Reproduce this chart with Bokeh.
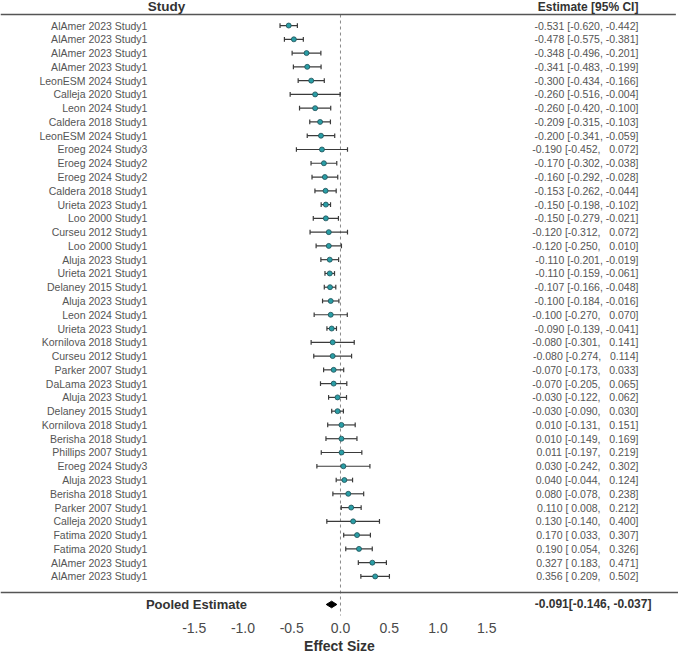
from bokeh.plotting import figure
from bokeh.models import ColumnDataSource, FixedTicker, Range1d, PrintfTickFormatter, Title
from bokeh.core.properties import value
from bokeh.embed import file_html
from bokeh.resources import INLINE

# Study-level effect sizes with 95% confidence intervals
studies = [
    "AlAmer 2023 Study1", "AlAmer 2023 Study1", "AlAmer 2023 Study1", "AlAmer 2023 Study1",
    "LeonESM 2024 Study1", "Calleja 2020 Study1", "Leon 2024 Study1", "Caldera 2018 Study1",
    "LeonESM 2024 Study1", "Eroeg 2024 Study3", "Eroeg 2024 Study2", "Eroeg 2024 Study2",
    "Caldera 2018 Study1", "Urieta 2023 Study1", "Loo 2000 Study1", "Curseu 2012 Study1",
    "Loo 2000 Study1", "Aluja 2023 Study1", "Urieta 2021 Study1", "Delaney 2015 Study1",
    "Aluja 2023 Study1", "Leon 2024 Study1", "Urieta 2023 Study1", "Kornilova 2018 Study1",
    "Curseu 2012 Study1", "Parker 2007 Study1", "DaLama 2023 Study1", "Aluja 2023 Study1",
    "Delaney 2015 Study1", "Kornilova 2018 Study1", "Berisha 2018 Study1", "Phillips 2007 Study1",
    "Eroeg 2024 Study3", "Aluja 2023 Study1", "Berisha 2018 Study1", "Parker 2007 Study1",
    "Calleja 2020 Study1", "Fatima 2020 Study1", "Fatima 2020 Study1", "AlAmer 2023 Study1",
    "AlAmer 2023 Study1",
]
estimates = [
    -0.531, -0.478, -0.348, -0.341, -0.300, -0.260, -0.260, -0.209, -0.200, -0.190,
    -0.170, -0.160, -0.153, -0.150, -0.150, -0.120, -0.120, -0.110, -0.110, -0.107,
    -0.100, -0.100, -0.090, -0.080, -0.080, -0.070, -0.070, -0.030, -0.030, 0.010,
    0.010, 0.011, 0.030, 0.040, 0.080, 0.110, 0.130, 0.170, 0.190, 0.327, 0.356,
]
ci_lower = [
    -0.620, -0.575, -0.496, -0.483, -0.434, -0.516, -0.420, -0.315, -0.341, -0.452,
    -0.302, -0.292, -0.262, -0.198, -0.279, -0.312, -0.250, -0.201, -0.159, -0.166,
    -0.184, -0.270, -0.139, -0.301, -0.274, -0.173, -0.205, -0.122, -0.090, -0.131,
    -0.149, -0.197, -0.242, -0.044, -0.078, 0.008, -0.140, 0.033, 0.054, 0.183, 0.209,
]
ci_upper = [
    -0.442, -0.381, -0.201, -0.199, -0.166, -0.004, -0.100, -0.103, -0.059, 0.072,
    -0.038, -0.028, -0.044, -0.102, -0.021, 0.072, 0.010, -0.019, -0.061, -0.048,
    -0.016, 0.070, -0.041, 0.141, 0.114, 0.033, 0.065, 0.062, 0.030, 0.151,
    0.169, 0.219, 0.302, 0.124, 0.238, 0.212, 0.400, 0.307, 0.326, 0.471, 0.502,
]

pooled_label = "Pooled Estimate"
pooled_est = -0.091
pooled_lower = -0.146
pooled_upper = -0.037

x_ticks = [-1.5, -1.0, -0.5, 0.0, 0.5, 1.0, 1.5]
x_title = "Effect Size"

n = len(studies)
rows = list(range(n))

GREY_TXT = "#555555"
DARK_TXT = "#333333"
FONT = value("Liberation Sans")
NBSP = "\u00a0"


def fmt(v):
    # pad non-negative values so the columns line up
    s = f"{v:.3f}"
    return s if v < 0 else NBSP + s


# vertical layout: row pitch and frame size in pixels
FRAME_H = 616
ROW_PX = 13.75
TOP_ROW_PX = 25


def row_at(px):
    return (px - TOP_ROW_PX) / ROW_PX


# column positions (in effect-size units)
LABEL_X = -1.98
EST_X = 3.056
STUDY_HDR_X = -1.785
HEADER_Y = row_at(6)
HEADER_RULE_Y = row_at(14)
BOTTOM_RULE_Y = row_at(591)
POOLED_Y = row_at(603)
REF_LINE_END = row_at(614)

p = figure(
    width=678, height=653,
    output_backend="svg", toolbar_location=None,
    x_range=Range1d(-3.487, 3.467),
    y_range=Range1d(row_at(FRAME_H), row_at(0)),
    y_axis_location=None,
    min_border_left=0, min_border_right=0, min_border_top=0, min_border_bottom=0,
    background_fill_color="white", border_fill_color="white",
)
p.outline_line_color = None
p.xgrid.visible = False
p.ygrid.visible = False

ax = p.xaxis[0]
ax.ticker = FixedTicker(ticks=x_ticks)
ax.formatter = PrintfTickFormatter(format="%.1f")
ax.axis_line_color = None
ax.major_tick_line_color = None
ax.minor_tick_line_color = None
ax.major_tick_out = 0
ax.major_tick_in = 0
ax.major_label_text_font = "Liberation Sans"
ax.major_label_text_font_size = "14px"
ax.major_label_text_color = "#4a4a4a"
ax.major_label_standoff = 5

# axis title below the tick labels
p.add_layout(Title(text=x_title, align="center", text_font="Liberation Sans",
                   text_font_size="14px", text_font_style="bold",
                   text_color=DARK_TXT, standoff=0, offset=0), "below")

# reference line at zero effect
p.segment(x0=[0], y0=[HEADER_RULE_Y], x1=[0], y1=[REF_LINE_END],
          line_color="#8a8a8a", line_width=1, line_dash="3 3")

# header and separator rules
p.segment(x0=[-3.487], y0=[HEADER_RULE_Y], x1=[3.44], y1=[HEADER_RULE_Y],
          line_color="#555555", line_width=1.5)
p.segment(x0=[-3.487], y0=[BOTTOM_RULE_Y], x1=[3.467], y1=[BOTTOM_RULE_Y],
          line_color="#555555", line_width=1.5)

src = ColumnDataSource(dict(
    y=rows, est=estimates, lo=ci_lower, hi=ci_upper, study=studies,
    cap_top=[r - 0.17 for r in rows], cap_bot=[r + 0.17 for r in rows],
    txt=[f"{fmt(e)} [{fmt(l)}, {NBSP}{fmt(h)}]" if h >= 0 else f"{fmt(e)} [{fmt(l)}, {fmt(h)}]"
         for e, l, h in zip(estimates, ci_lower, ci_upper)],
))

# confidence intervals with end caps
p.segment(x0="lo", y0="y", x1="hi", y1="y", source=src, line_color="#3a3a3a", line_width=1.2)
p.segment(x0="lo", y0="cap_top", x1="lo", y1="cap_bot", source=src, line_color="#3a3a3a", line_width=1.2)
p.segment(x0="hi", y0="cap_top", x1="hi", y1="cap_bot", source=src, line_color="#3a3a3a", line_width=1.2)

# point estimates
p.scatter(x="est", y="y", source=src, marker="circle", size=5,
          fill_color="#2a9ea6", line_color="#1f4f55", line_width=0.8)

# study names and estimate text
p.text(x=LABEL_X, y="y", text="study", source=src, text_align="right",
       text_baseline="middle", text_font=FONT, text_font_size="10.5px", text_color=GREY_TXT)
p.text(x=EST_X, y="y", text="txt", source=src, text_align="right",
       text_baseline="middle", text_font=FONT, text_font_size="10.5px", text_color=GREY_TXT)

# column headers
p.text(x=[STUDY_HDR_X], y=[HEADER_Y], text=["Study"], text_align="center",
       text_baseline="middle", text_font=FONT, text_font_size="13.5px",
       text_font_style="bold", text_color=DARK_TXT)
p.text(x=[EST_X], y=[HEADER_Y], text=["Estimate [95% CI]"], text_align="right",
       text_baseline="middle", text_font=FONT, text_font_size="12px",
       text_font_style="bold", text_color=DARK_TXT)

# pooled estimate diamond spanning its confidence interval
p.patch(x=[pooled_lower, pooled_est, pooled_upper, pooled_est],
        y=[POOLED_Y, POOLED_Y - 0.24, POOLED_Y, POOLED_Y + 0.24],
        fill_color="black", line_color="black", line_width=1)
p.text(x=[(196 - 340) / 97.5], y=[POOLED_Y], text=[pooled_label], text_align="center",
       text_baseline="middle", text_font=FONT, text_font_size="13px",
       text_font_style="bold", text_color=DARK_TXT)
p.text(x=[(651 - 340) / 97.5], y=[POOLED_Y],
       text=[f"{pooled_est:.3f}[{pooled_lower:.3f}, {pooled_upper:.3f}]"],
       text_align="right", text_baseline="middle", text_font=FONT,
       text_font_size="12px", text_font_style="bold", text_color=DARK_TXT)

open("out.html", "w").write(file_html(p, INLINE))
